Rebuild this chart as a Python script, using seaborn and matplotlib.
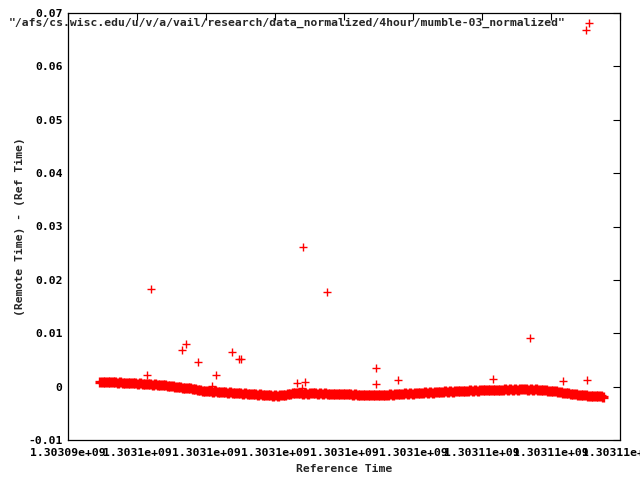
import numpy as np
import pandas as pd
import matplotlib
matplotlib.use("Agg")
import matplotlib.pyplot as plt
from matplotlib.ticker import MultipleLocator, FuncFormatter
import seaborn as sns

# main band of samples (units: 1e-3 s), evenly spaced in time
band_start = 1303094928
band_end = 1303109510
band_ms = [
    0.88, 0.82, 0.86, 0.80, 0.84, 0.78, 0.83, 0.76, 0.81, 0.74,
    0.76, 0.68, 0.72, 0.63, 0.67, 0.58, 0.62, 0.52, 0.57, 0.47,
    0.45, 0.38, 0.40, 0.30, 0.33, 0.22, 0.25, 0.12, 0.15, 0.04,
    0.02, -0.10, -0.06, -0.22, -0.18, -0.35, -0.30, -0.48, -0.45, -0.62,
    -0.66, -0.78, -0.74, -0.86, -0.82, -0.94, -0.90, -1.00, -0.97, -1.06,
    -1.04, -1.14, -1.10, -1.20, -1.16, -1.26, -1.22, -1.32, -1.28, -1.37,
    -1.34, -1.44, -1.40, -1.50, -1.46, -1.56, -1.52, -1.62, -1.58, -1.68,
    -1.64, -1.72, -1.66, -1.60, -1.52, -1.42, -1.34, -1.24, -1.18, -1.26,
    -1.20, -1.30, -1.22, -1.32, -1.24, -1.28, -1.20, -1.33, -1.25, -1.30,
    -1.26, -1.36, -1.30, -1.40, -1.32, -1.38, -1.34, -1.44, -1.36, -1.42,
    -1.40, -1.50, -1.44, -1.54, -1.48, -1.58, -1.52, -1.62, -1.55, -1.64,
    -1.58, -1.66, -1.56, -1.62, -1.50, -1.56, -1.44, -1.50, -1.40, -1.46,
    -1.32, -1.40, -1.28, -1.36, -1.24, -1.30, -1.20, -1.26, -1.14, -1.22,
    -1.10, -1.18, -1.06, -1.12, -1.00, -1.06, -0.94, -1.00, -0.90, -0.96,
    -0.86, -0.92, -0.82, -0.88, -0.78, -0.84, -0.74, -0.80, -0.72, -0.78,
    -0.70, -0.76, -0.66, -0.72, -0.62, -0.70, -0.60, -0.66, -0.56, -0.64,
    -0.54, -0.62, -0.52, -0.58, -0.48, -0.56, -0.46, -0.54, -0.48, -0.52,
    -0.46, -0.54, -0.50, -0.56, -0.52, -0.60, -0.58, -0.66, -0.68, -0.76,
    -0.78, -0.88, -0.90, -1.00, -1.04, -1.14, -1.18, -1.28, -1.32, -1.42,
    -1.46, -1.56, -1.54, -1.64, -1.62, -1.70, -1.68, -1.78, -1.74, -1.82,
    -1.80, -1.86,
]

# samples that stick out of the band
spike_time = [1303096299, 1303096406, 1303097296, 1303097412, 1303097777,
              1303098183, 1303098290, 1303098763, 1303098957, 1303099015,
              1303100647, 1303100775, 1303100821, 1303100871, 1303101508,
              1303102920, 1303102930, 1303103575, 1303106329, 1303107393,
              1303108359, 1303109017, 1303109055]
spike_diff = [0.00225, 0.0183, 0.0069, 0.0080, 0.0047,
              0.0002, 0.0021, 0.0065, 0.0052, 0.0052,
              0.0007, -0.0002, 0.0262, 0.0009, 0.0178,
              0.0035, 0.0004, 0.0013, 0.0015, 0.0091,
              0.0011, 0.0668, 0.0013]

title = '"/afs/cs.wisc.edu/u/v/a/vail/research/data_normalized/4hour/mumble-03_normalized"'

band = pd.DataFrame({
    "t": np.linspace(band_start, band_end, len(band_ms)),
    "diff": np.array(band_ms) * 1e-3,
})
spikes = pd.DataFrame({"t": spike_time, "diff": spike_diff})

sns.set_theme(style="white")
fs = 8.2
plt.rcParams["font.family"] = ["DejaVu Sans Mono"]
plt.rcParams["font.weight"] = "bold"
plt.rcParams["font.size"] = fs
plt.rcParams["xtick.labelsize"] = fs
plt.rcParams["ytick.labelsize"] = fs
plt.rcParams["axes.labelsize"] = fs
plt.rcParams["legend.fontsize"] = fs

fig = plt.figure(figsize=(6.4, 4.8), dpi=100)
ax = fig.add_axes([68 / 640, 40 / 480, 552 / 640, 427 / 480])

sns.scatterplot(data=band, x="t", y="diff", marker="+", color="#ff0000",
                s=55, linewidth=2.4, ax=ax, label="_nolegend_")
sns.scatterplot(data=spikes, x="t", y="diff", marker="+", color="#ff0000",
                s=40, linewidth=1.0, ax=ax, label=title)

ax.set_xlim(1303094000, 1303110000)
ax.set_ylim(-0.01, 0.07)
ax.xaxis.set_major_locator(MultipleLocator(2000))
ax.yaxis.set_major_locator(MultipleLocator(0.01))
ax.xaxis.set_major_formatter(FuncFormatter(lambda v, p: "%g" % v))
ax.yaxis.set_major_formatter(FuncFormatter(lambda v, p: "%g" % round(v, 6)))
ax.tick_params(direction="in", top=True, right=True, length=5, width=0.8,
               colors="black")
ax.tick_params(axis="x", pad=6)
ax.tick_params(axis="y", pad=4)
for sp in ax.spines.values():
    sp.set_color("black")
    sp.set_linewidth(0.9)

ax.set_xlabel("Reference Time", fontweight="bold", labelpad=4)
ax.set_ylabel("(Remote Time) - (Ref Time)", fontweight="bold", labelpad=2)

ax.legend(loc="upper right", bbox_to_anchor=(0.963, 1.0), frameon=False,
          markerfirst=False, handlelength=1.0, handletextpad=1.6,
          borderaxespad=0.0)

fig.savefig("out.png", dpi=100)
